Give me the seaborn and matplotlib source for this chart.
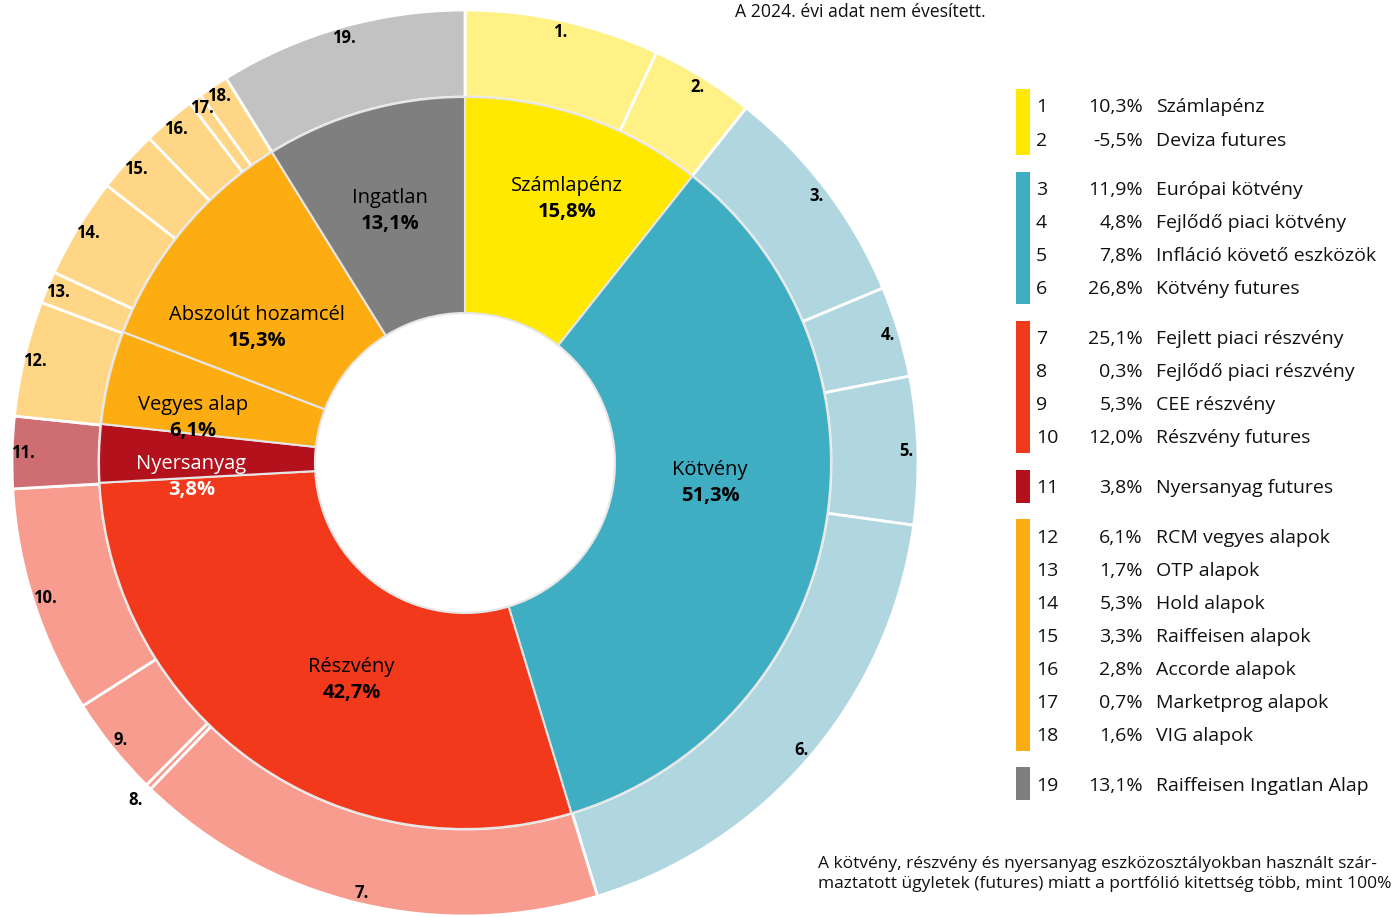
import numpy as np
import matplotlib
matplotlib.use("Agg")
import matplotlib.pyplot as plt
import seaborn as sns

# --- data -------------------------------------------------------------
inner_labels = ["Számlapénz", "Kötvény", "Részvény", "Nyersanyag",
                "Vegyes alap", "Abszolút hozamcél", "Ingatlan"]
inner_values = [15.8, 51.3, 42.7, 3.8, 6.1, 15.3, 13.1]
inner_colors = ["#FFE900", "#3FADC2", "#F2391B", "#B3121D",
                "#FDAD12", "#FDAD12", "#7F7F7F"]
inner_text_colors = ["black", "black", "black", "white", "black", "black", "black"]
# label placement tweaks: (radius as fraction of outer radius, angle shift clockwise in degrees)
inner_label_place = [(0.625, 1.9), (0.543, -6.1), (0.541, -7.4), (0.605, -4.4),
                     (0.608, -4.2), (0.547, -6.6), (0.58, -0.6)]

outer_ids = list(range(1, 20))
outer_values = [10.3, -5.5, 11.9, 4.8, 7.8, 26.8, 25.1, 0.3, 5.3, 12.0,
                3.8, 6.1, 1.7, 5.3, 3.3, 2.8, 0.7, 1.6, 13.1]
outer_names = ["Számlapénz", "Deviza futures", "Európai kötvény",
               "Fejlődő piaci kötvény", "Infláció követő eszközök",
               "Kötvény futures", "Fejlett piaci részvény",
               "Fejlődő piaci részvény", "CEE részvény", "Részvény futures",
               "Nyersanyag futures", "RCM vegyes alapok", "OTP alapok",
               "Hold alapok", "Raiffeisen alapok", "Accorde alapok",
               "Marketprog alapok", "VIG alapok", "Raiffeisen Ingatlan Alap"]
# legend colour group of each outer slice
outer_group = [0, 0, 1, 1, 1, 1, 2, 2, 2, 2, 3, 4, 4, 4, 4, 4, 4, 4, 5]
group_colors = ["#FFE900", "#3FADC2", "#F2391B", "#B3121D", "#FDAD12", "#7F7F7F"]
group_light = ["#FFF186", "#B0D7DF", "#F79C8E", "#CF6E72", "#FED685", "#C2C2C2"]

note_top = "A 2024. évi adat nem évesített."
note_bottom = ("A kötvény, részvény és nyersanyag eszközosztályokban használt szár-\n"
               "maztatott ügyletek (futures) miatt a portfólió kitettség több, mint 100%")


def hu_pct(v):
    return f"{v:.1f}".replace(".", ",") + "%"


sns.set_theme(style="white")
plt.rcParams["font.family"] = ["Open Sans", "Noto Sans", "DejaVu Sans"]

W, H = 1399, 917
fig = plt.figure(figsize=(W / 100, H / 100), dpi=100)

# --- donut ------------------------------------------------------------
cx, cy, R = 465, 463, 453
r_mid, r_hole = 366, 150
ax = fig.add_axes([(cx - R) / W, (H - cy - R) / H, 2 * R / W, 2 * R / H])

outer_sizes = np.abs(outer_values)
outer_colors = [group_light[g] for g in outer_group]
outer_wedges, _ = ax.pie(outer_sizes, radius=1.0, startangle=90, counterclock=False,
                         colors=outer_colors,
                         wedgeprops=dict(width=(R - r_mid) / R, edgecolor="white", linewidth=2))
inner_wedges, _ = ax.pie(inner_values, radius=r_mid / R, startangle=90, counterclock=False,
                         colors=inner_colors,
                         wedgeprops=dict(width=(r_mid - r_hole) / R, edgecolor="#E6E6E6",
                                         linewidth=1.5))
ax.set_xlim(-1, 1)
ax.set_ylim(-1, 1)
ax.set_aspect("equal")
ax.axis("off")

# outer numbers
for w, num, val in zip(outer_wedges, outer_ids, outer_sizes):
    ang = np.deg2rad((w.theta1 + w.theta2) / 2)
    rr = 1.04 if val < 0.5 else 0.975
    ax.text(rr * np.cos(ang), rr * np.sin(ang), f"{num}.", ha="center", va="center",
            fontsize=12, fontweight="bold", color="black")

# inner labels
for w, name, val, tc, (rr, shift) in zip(inner_wedges, inner_labels, inner_values,
                                         inner_text_colors, inner_label_place):
    ang = np.deg2rad((w.theta1 + w.theta2) / 2 - shift)
    x, y = rr * np.cos(ang), rr * np.sin(ang)
    ax.annotate(name, (x, y), xytext=(0, 9.4), textcoords="offset points",
                ha="center", va="center", fontsize=14.5, color=tc)
    ax.annotate(hu_pct(val), (x, y), xytext=(0, -9.4), textcoords="offset points",
                ha="center", va="center", fontsize=14.5, fontweight="bold", color=tc)

# --- legend and notes (pixel coords) -----------------------------------
lax = fig.add_axes([0, 0, 1, 1])
lax.set_xlim(0, W)
lax.set_ylim(H, 0)
lax.axis("off")

row_h, gap, y0 = 33.1, 16.5, 106
row_y = []
for i, g in enumerate(outer_group):
    row_y.append(y0 + i * row_h + g * gap)

for g, col in enumerate(group_colors):
    ys = [y for y, gg in zip(row_y, outer_group) if gg == g]
    top, bot = min(ys) - 17, max(ys) + 16
    lax.add_patch(plt.Rectangle((1016, top), 14, bot - top, color=col, lw=0))

for y, num, val, name in zip(row_y, outer_ids, outer_values, outer_names):
    lax.text(1036, y + 1.5, str(num), ha="left", va="center", fontsize=14, color="#111111")
    lax.text(1143, y + 1.5, hu_pct(val), ha="right", va="center", fontsize=14, color="#111111")
    lax.text(1156, y + 1.5, name, ha="left", va="center", fontsize=14, color="#111111")

lax.text(735, 12, note_top, ha="left", va="center", fontsize=12.7, color="#111111")
lax.text(818, 874, note_bottom, ha="left", va="center", fontsize=12.5, color="#111111",
         linespacing=1.3)

fig.savefig("out.png", dpi=100)
